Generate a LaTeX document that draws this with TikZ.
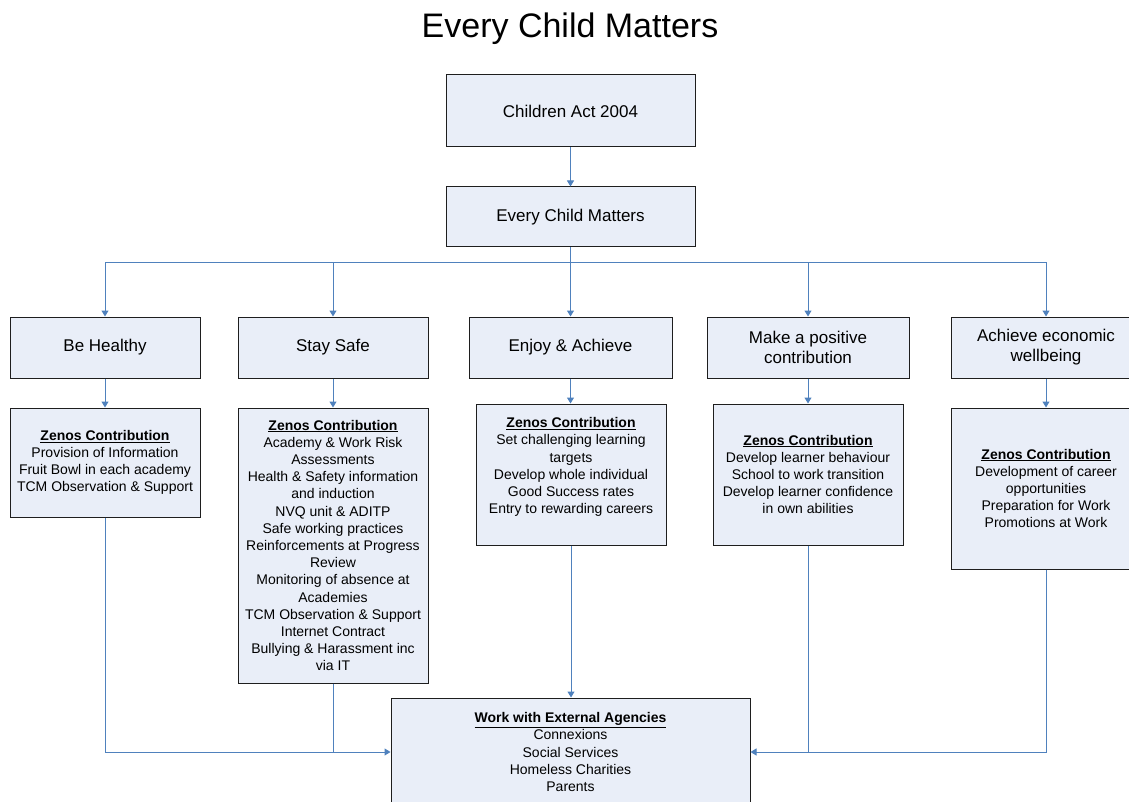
\documentclass[tikz,border=0pt]{standalone}
\usepackage{fontspec}
\setmainfont{Liberation Sans}
\usetikzlibrary{arrows.meta}
\definecolor{boxfill}{RGB}{233,238,248}
\definecolor{boxline}{RGB}{30,30,30}
\definecolor{conncol}{RGB}{79,129,189}
\tikzset{
  box/.style={draw=boxline,line width=1pt,fill=boxfill,inner sep=2pt,align=center,anchor=center},
  outcome/.style={box,minimum height=61pt,font=\fontsize{17}{20}\selectfont},
  contrib/.style={box,font=\fontsize{14}{17.2}\selectfont},
  conn/.style={draw=conncol,line width=1pt},
  arr/.style={conn,-{Triangle[width=7pt,length=6pt]}}
}
\newcommand{\zc}[1]{\underline{\textbf{#1}}}
\begin{document}
\begin{tikzpicture}[x=1pt,y=-1pt]
\clip (0,0) rectangle (1129,802);
\fill[white] (0,0) rectangle (1129,802);
\node[font=\fontsize{34}{40}\selectfont] (title) at (570,29) {Every Child Matters};
\node[box,minimum width=249pt,minimum height=72pt,font=\fontsize{17}{20}\selectfont] (act) at (570.5,111) {Children Act 2004};
\node[box,minimum width=249pt,minimum height=60pt,font=\fontsize{17}{20}\selectfont] (ecm) at (570.5,217) {Every Child Matters};
\node[outcome,minimum width=190pt] (bh) at (105,347.5) {Be Healthy};
\node[outcome,minimum width=190pt] (ss) at (333,347.5) {Stay Safe};
\node[outcome,minimum width=203pt] (ea) at (570.5,347.5) {Enjoy \& Achieve};
\node[outcome,minimum width=202pt] (mp) at (808,347.5) {Make a positive\\contribution};
\node[outcome,minimum width=190pt] (ae) at (1046,347.5) {Achieve economic\\wellbeing};
\node[contrib,minimum width=190pt,minimum height=109pt] (cbh) at (105,462.5) {\zc{Zenos Contribution}\\Provision of Information\\Fruit Bowl in each academy\\TCM Observation \& Support};
\node[contrib,minimum width=190pt,minimum height=275pt] (css) at (333,545.5) {\zc{Zenos Contribution}\\Academy \& Work Risk\\Assessments\\Health \& Safety information\\and induction\\NVQ unit \& ADITP\\Safe working practices\\Reinforcements at Progress\\Review\\Monitoring of absence at\\Academies\\TCM Observation \& Support\\Internet Contract\\Bullying \& Harassment inc\\via IT};
\node[contrib,minimum width=190pt,minimum height=141pt] (cea) at (571,474.5) {};
\node[font=\fontsize{14}{17.2}\selectfont,align=center,anchor=north] (tea) at (571,414) {\zc{Zenos Contribution}\\Set challenging learning\\targets\\Develop whole individual\\Good Success rates\\Entry to rewarding careers};
\node[contrib,minimum width=190pt,minimum height=141pt] (cmp) at (808,474.5) {\zc{Zenos Contribution}\\Develop learner behaviour\\School to work transition\\Develop learner confidence\\in own abilities};
\node[contrib,minimum width=190pt,minimum height=161pt] (cae) at (1046,488.5) {\zc{Zenos Contribution}\\Development of career\\opportunities\\Preparation for Work\\Promotions at Work};
\node[contrib,minimum width=359pt,minimum height=108pt] (ext) at (570.5,752) {\zc{Work with External Agencies}\\Connexions\\Social Services\\Homeless Charities\\Parents};
\draw[arr] (act) -- (ecm);
\foreach \o in {bh,ss,ea,mp,ae}{
  \draw[arr] (ecm.south) -- ++(0,15) -| (\o.north);
}
\draw[arr] (bh) -- (cbh);
\draw[arr] (ss) -- (css);
\draw[arr] (ea.south) -- (ea.south |- cea.north);
\draw[arr] (mp) -- (cmp);
\draw[arr] (ae) -- (cae);
\draw[arr] (cbh.south) |- (ext.west);
\draw[conn] (css.south) -- (css.south |- ext.west);
\draw[arr] (cea.south) -- (cea.south |- ext.north);
\draw[arr] (cae.south) |- (ext.east);
\draw[conn] (cmp.south) -- (cmp.south |- ext.east);
\end{tikzpicture}
\end{document}
